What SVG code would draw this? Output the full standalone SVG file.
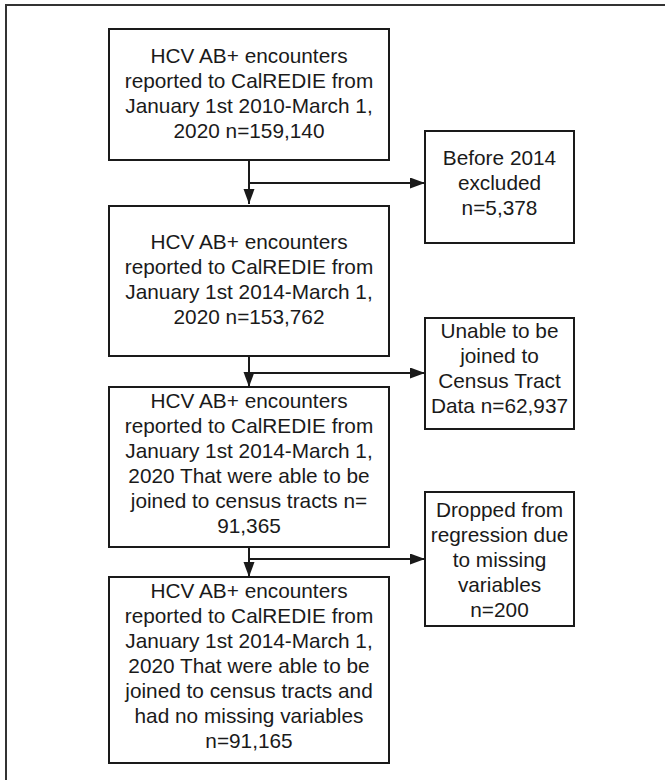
<svg xmlns="http://www.w3.org/2000/svg" width="665" height="780" viewBox="0 0 665 780">
  <style>
    .box { fill: #ffffff; stroke: #1a1a1a; stroke-width: 2; }
    .lbl { font-family: "Liberation Sans", Arial, sans-serif; font-size: 20.8px; fill: #1a1a1a; text-anchor: middle; }
    .conn { fill: none; stroke: #1a1a1a; stroke-width: 2; }
    .frame { fill: none; stroke: #333333; stroke-width: 2; }
  </style>
  <defs>
    <marker id="arrow" markerUnits="userSpaceOnUse" markerWidth="16" markerHeight="12" refX="15" refY="5.5" orient="auto">
      <path d="M0,0 L15,5.5 L0,11 z" fill="#1a1a1a"/>
    </marker>
  </defs>
  <rect x="0" y="0" width="665" height="780" fill="#ffffff"/>
  <path class="frame" d="M6,781 V5 H666"/>

  <g id="connectors">
    <path class="conn" d="M249,160 V204" marker-end="url(#arrow)"/>
    <path class="conn" d="M249,183 H425" marker-end="url(#arrow)"/>
    <path class="conn" d="M249,356 V387" marker-end="url(#arrow)"/>
    <path class="conn" d="M249,373 H425" marker-end="url(#arrow)"/>
    <path class="conn" d="M249,547 V577" marker-end="url(#arrow)"/>
    <path class="conn" d="M249,559 H425" marker-end="url(#arrow)"/>
  </g>

  <g id="node1">
    <rect class="box" x="109" y="29" width="280" height="131"/>
    <text class="lbl" x="249" y="63">HCV AB+ encounters</text>
    <text class="lbl" x="249" y="88">reported to CalREDIE from</text>
    <text class="lbl" x="249" y="113">January 1st 2010-March 1,</text>
    <text class="lbl" x="249" y="138">2020 n=159,140</text>
  </g>

  <g id="node2">
    <rect class="box" x="109" y="206" width="280" height="150"/>
    <text class="lbl" x="249" y="249">HCV AB+ encounters</text>
    <text class="lbl" x="249" y="274">reported to CalREDIE from</text>
    <text class="lbl" x="249" y="299">January 1st 2014-March 1,</text>
    <text class="lbl" x="249" y="324">2020 n=153,762</text>
  </g>

  <g id="node3">
    <rect class="box" x="109" y="387" width="280" height="160"/>
    <text class="lbl" x="249" y="408">HCV AB+ encounters</text>
    <text class="lbl" x="249" y="433">reported to CalREDIE from</text>
    <text class="lbl" x="249" y="458">January 1st 2014-March 1,</text>
    <text class="lbl" x="249" y="483">2020 That were able to be</text>
    <text class="lbl" x="249" y="508">joined to census tracts n=</text>
    <text class="lbl" x="249" y="533">91,365</text>
  </g>

  <g id="node4">
    <rect class="box" x="109" y="577" width="280" height="186"/>
    <text class="lbl" x="249" y="598">HCV AB+ encounters</text>
    <text class="lbl" x="249" y="623">reported to CalREDIE from</text>
    <text class="lbl" x="249" y="648">January 1st 2014-March 1,</text>
    <text class="lbl" x="249" y="673">2020 That were able to be</text>
    <text class="lbl" x="249" y="698">joined to census tracts and</text>
    <text class="lbl" x="249" y="723">had no missing variables</text>
    <text class="lbl" x="249" y="748">n=91,165</text>
  </g>

  <g id="excl1">
    <rect class="box" x="425" y="131" width="149" height="112"/>
    <text class="lbl" x="499.5" y="165">Before 2014</text>
    <text class="lbl" x="499.5" y="190">excluded</text>
    <text class="lbl" x="499.5" y="215">n=5,378</text>
  </g>

  <g id="excl2">
    <rect class="box" x="425" y="318" width="149" height="111"/>
    <text class="lbl" x="499.5" y="338">Unable to be</text>
    <text class="lbl" x="499.5" y="363">joined to</text>
    <text class="lbl" x="499.5" y="388">Census Tract</text>
    <text class="lbl" x="499.5" y="413">Data n=62,937</text>
  </g>

  <g id="excl3">
    <rect class="box" x="425" y="492" width="149" height="134"/>
    <text class="lbl" x="499.5" y="517">Dropped from</text>
    <text class="lbl" x="499.5" y="542">regression due</text>
    <text class="lbl" x="499.5" y="567">to missing</text>
    <text class="lbl" x="499.5" y="592">variables</text>
    <text class="lbl" x="499.5" y="617">n=200</text>
  </g>
</svg>
